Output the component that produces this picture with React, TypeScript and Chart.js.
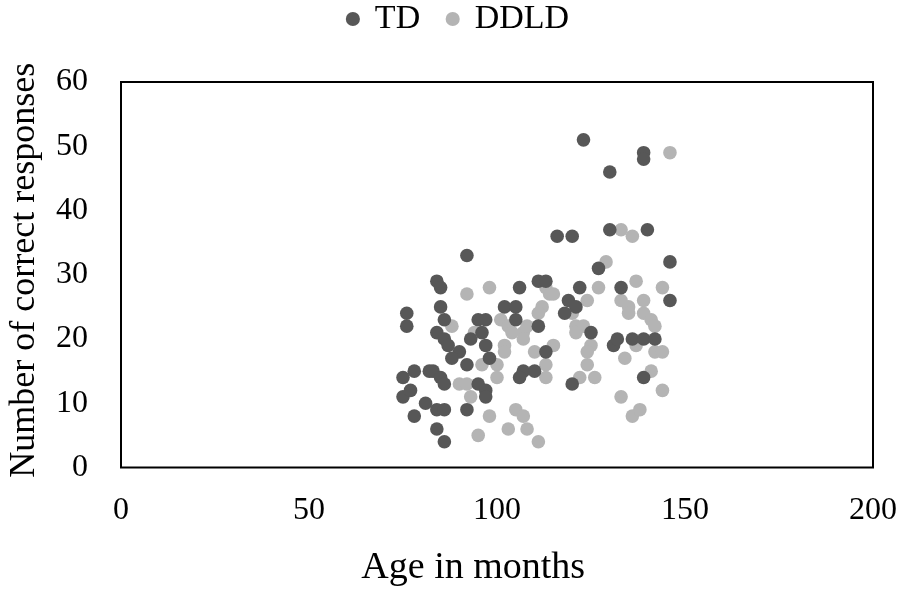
import React, { useEffect, useRef } from 'react';
import { Chart, registerables } from 'chart.js';

Chart.register(...registerables);

// ---- Data ----
const seriesNames = ['TD', 'DDLD'];

const tdAge = [92, 84, 85, 106, 111, 113, 76, 76, 85, 86, 102, 105, 95, 97, 105, 111, 84, 86, 87, 90, 88, 93, 96, 97, 98, 92, 113, 107, 110, 106, 75, 78, 82, 83, 85, 86, 75, 77, 95, 97, 97, 81, 84, 86, 78, 92, 84, 86, 123, 139, 139, 130, 116, 120, 130, 140, 127, 146, 146, 122, 133, 119, 121, 118, 125, 131, 132, 136, 139, 142, 139, 120];
const tdScore = [33, 29, 28, 28, 29, 29, 24, 22, 25, 23, 25, 25, 23, 23, 23, 22, 21, 20, 19, 18, 17, 20, 21, 19, 17, 16, 18, 15, 15, 14, 14, 15, 15, 15, 14, 13, 11, 12, 13, 12, 11, 10, 9, 9, 8, 9, 6, 4, 51, 49, 48, 46, 36, 36, 37, 37, 31, 32, 26, 28, 28, 26, 25, 24, 21, 19, 20, 20, 20, 20, 14, 13];

const ddldAge = [92, 98, 113, 114, 115, 112, 111, 88, 94, 101, 103, 104, 107, 108, 107, 102, 102, 110, 115, 96, 100, 100, 113, 113, 90, 92, 93, 98, 105, 107, 108, 103, 95, 111, 146, 133, 136, 129, 137, 144, 127, 124, 120, 121, 123, 121, 125, 124, 124, 122, 126, 133, 135, 135, 139, 139, 141, 142, 137, 142, 144, 134, 141, 144, 133, 136, 138];
const ddldScore = [27, 28, 28, 27, 27, 25, 24, 22, 21, 23, 22, 21, 21, 22, 20, 19, 18, 18, 19, 16, 16, 14, 16, 14, 13, 13, 11, 8, 9, 8, 6, 6, 5, 4, 49, 37, 36, 32, 29, 28, 28, 26, 24, 22, 22, 21, 19, 18, 16, 14, 14, 26, 25, 24, 26, 24, 23, 22, 19, 18, 18, 17, 15, 12, 11, 8, 9];

const xTitle = 'Age in months';
const yTitle = 'Number of correct responses';

const FONT = "'Liberation Serif', 'Times New Roman', serif";

const framePlugin = {
  id: 'frame',
  afterDraw(chart: any) {
    const { ctx, chartArea } = chart;
    ctx.save();
    ctx.strokeStyle = '#000';
    ctx.lineWidth = 2;
    ctx.strokeRect(chartArea.left, chartArea.top, chartArea.right - chartArea.left, chartArea.bottom - chartArea.top);
    ctx.restore();
  },
};

const legendShift = {
  id: 'legendShift',
  afterLayout(chart: any) {
    const lg = chart.legend;
    if (!lg) return;
    lg.left += 22;
    lg.right += 22;
    lg.top -= 36;
    lg.bottom -= 36;
  },
};

export default function App() {
  const ref = useRef<HTMLCanvasElement | null>(null);

  useEffect(() => {
    if (!ref.current) return;
    const toPts = (xs: number[], ys: number[]) => xs.map((x, i) => ({ x, y: ys[i] }));
    const chart = new Chart(ref.current, {
      type: 'scatter',
      data: {
        datasets: [
          {
            label: seriesNames[0],
            data: toPts(tdAge, tdScore),
            backgroundColor: '#575757',
            borderWidth: 0,
            pointRadius: 6.8,
            pointHoverRadius: 6.8,
          },
          {
            label: seriesNames[1],
            data: toPts(ddldAge, ddldScore),
            backgroundColor: '#b4b4b4',
            borderWidth: 0,
            pointRadius: 6.8,
            pointHoverRadius: 6.8,
          },
        ],
      },
      options: {
        animation: false,
        responsive: false,
        events: [],
        layout: { padding: { top: 36, right: 28, left: 0, bottom: 0 } },
        plugins: {
          tooltip: { enabled: false },
          legend: {
            position: 'top',
            labels: {
              usePointStyle: true,
              pointStyle: 'circle',
              boxWidth: 10,
              boxHeight: 10,
              padding: 2,
              color: '#000',
              font: { family: FONT, size: 34 },
              generateLabels: (c: any) => {
                const items = (Chart as any).defaults.plugins.legend.labels.generateLabels(c);
                items.forEach((it: any, i: number) => {
                  it.text = i === 0 ? it.text + '   ' : it.text;
                  it.lineWidth = 0;
                });
                return items;
              },
            },
          },
        },
        scales: {
          x: {
            type: 'linear',
            min: 0,
            max: 200,
            grid: { display: false, drawTicks: false },
            border: { display: false },
            ticks: {
              stepSize: 50,
              padding: 24,
              color: '#000',
              font: { family: FONT, size: 32 },
              maxRotation: 0,
              autoSkip: false,
            },
            title: {
              display: true,
              text: xTitle + '     ',
              color: '#000',
              font: { family: FONT, size: 38, lineHeight: 1 },
              padding: { top: 0, bottom: 6 },
            },
            afterFit: (s: any) => {
              s.height = 125.5;
              s.paddingRight = 0;
            },
          },
          y: {
            type: 'linear',
            min: 0,
            max: 60,
            grid: { display: false, drawTicks: false },
            border: { display: false },
            ticks: {
              stepSize: 10,
              padding: 33,
              color: '#000',
              font: { family: FONT, size: 32 },
            },
            title: {
              display: true,
              text: ' ' + yTitle,
              color: '#000',
              font: { family: FONT, size: 36, lineHeight: 1 },
              padding: { top: 7, bottom: 0 },
            },
            afterFit: (s: any) => {
              s.width = 121;
            },
          },
        },
      },
      plugins: [framePlugin, legendShift],
    } as any);
    return () => chart.destroy();
  }, []);

  return (
    <div style={{ position: 'fixed', left: 0, top: 0, width: 901, height: 593, background: '#fff' }}>
      <canvas ref={ref} width={901} height={593} style={{ width: 901, height: 593, display: 'block' }} />
    </div>
  );
}
